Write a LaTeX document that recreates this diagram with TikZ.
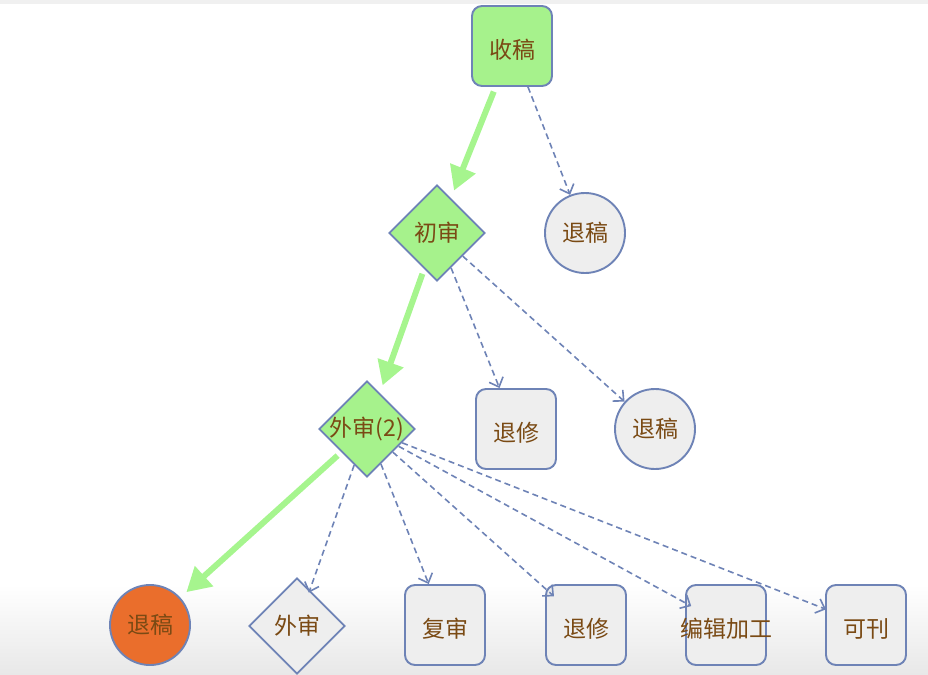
\documentclass[tikz,border=0pt]{standalone}
\usepackage{fontspec}
\setmainfont{Noto Sans CJK SC}
\usetikzlibrary{shapes.geometric,arrows.meta}
\definecolor{edgec}{HTML}{6E83B6}
\definecolor{gfill}{HTML}{A6F28C}
\definecolor{grayf}{HTML}{EEEEEE}
\definecolor{ora}{HTML}{EA6E2C}
\definecolor{txt}{HTML}{7A4A14}
\definecolor{garrow}{HTML}{A6F58E}
\begin{document}
\begin{tikzpicture}[x=1pt,y=-1pt,
  every label/.style={text=txt,font=\fontsize{23}{26}\selectfont,inner sep=0pt},
  low/.style={yshift=-4pt},
  box/.style={draw=edgec,line width=1.9pt,rounded corners=10pt,minimum width=80pt,minimum height=80pt,inner sep=0pt},
  circ/.style={circle,draw=edgec,line width=1.9pt,minimum size=80pt,inner sep=0pt},
  dia/.style={diamond,draw=edgec,line width=1.9pt,minimum width=96pt,minimum height=96pt,inner sep=0pt,aspect=1},
  gok/.style={fill=gfill},
  gry/.style={fill=grayf},
  ga/.style={draw=garrow,line width=6pt,-{Triangle[length=24pt,width=26pt]},shorten >=8pt,shorten <=5pt},
  da/.style={draw=edgec,line width=1.6pt,dash pattern=on 6pt off 4pt,-{Straight Barb[length=8pt,width=15pt]}}]
\useasboundingbox (0,0) rectangle (928,674);
\fill[black!6] (0,0) rectangle (928,4);
\shade[top color=white,bottom color=black!9] (0,585) rectangle (928,674);

\node[box,gok,label={[low]center:收稿}] (shougao) at (512,46) {};
\node[dia,gok,label=center:初审] (chushen) at (437,233) {};
\node[circ,gry,label=center:退稿] (tuigao1) at (585,233) {};
\node[dia,gok,label=center:外审(2)] (waishen2) at (367,429) {};
\node[box,gry,label={[low]center:退修}] (tuixiu1) at (516,429) {};
\node[circ,gry,label=center:退稿] (tuigao2) at (655,429) {};
\node[circ,fill=ora,label=center:退稿] (tuigao3) at (150,625) {};
\node[dia,gry,label=center:外审] (waishen) at (297,626) {};
\node[box,gry,label={[low]center:复审}] (fushen) at (445,625) {};
\node[box,gry,label={[low]center:退修}] (tuixiu2) at (586,625) {};
\node[box,gry,label={[low]center:编辑加工}] (bianji) at (726,625) {};
\node[box,gry,label={[low]center:可刊}] (kekan) at (866,625) {};

\draw[ga] (shougao) -- (chushen);
\draw[da] (shougao) -- (tuigao1);
\draw[ga] (chushen) -- (waishen2);
\draw[da] (chushen) -- (tuixiu1);
\draw[da] (chushen) -- (tuigao2);
\draw[ga] (waishen2) -- (tuigao3);
\draw[da,shorten >=-3pt] (waishen2) -- (waishen);
\draw[da] (waishen2) -- (fushen);
\draw[da,shorten >=-12pt] (waishen2) -- (tuixiu2);
\draw[da,shorten >=-7pt] (waishen2) -- (bianji);
\draw[da,shorten >=-1pt] (waishen2) -- (kekan);
\end{tikzpicture}
\end{document}
